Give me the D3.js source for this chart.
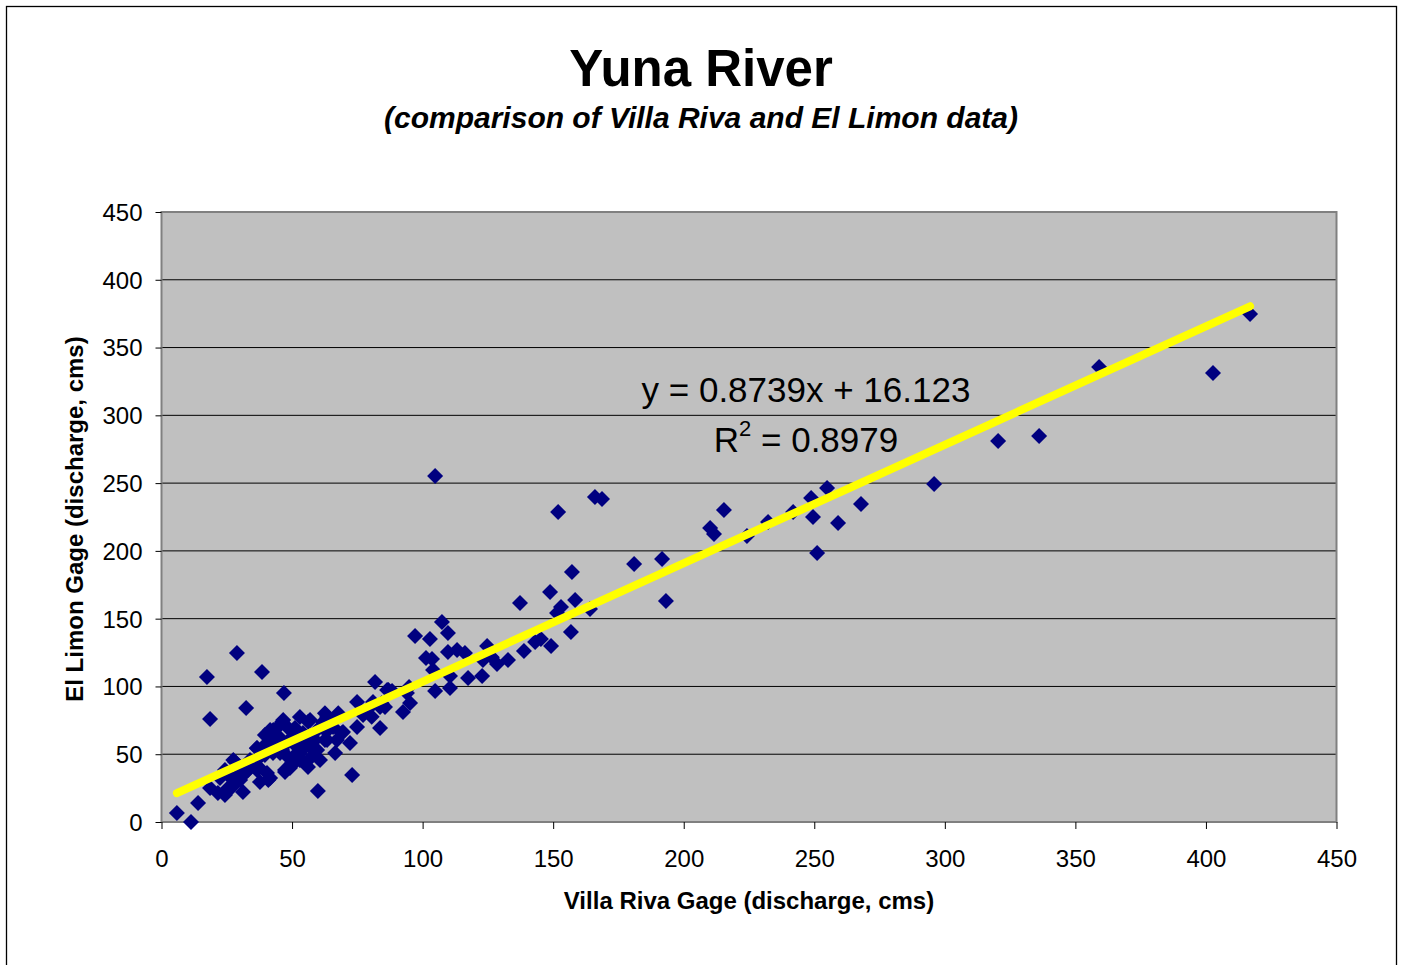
<!DOCTYPE html>
<html><head><meta charset="utf-8">
<script src="https://cdn.jsdelivr.net/npm/d3@7"></script>
<style>body{margin:0;background:#fff;} svg{display:block;font-family:"Liberation Sans",Arial,sans-serif;}</style>
</head><body>
<script>
const villaRiva = [416.9,402.7,359.1,336.1,320.4,295.9,267.9,259.1,251.1,254.9,248.8,249.5,241.9,232.3,224.2,215.4,210.1,211.6,193.2,191.7,181.0,168.7,166.0,151.9,104.8,157.2,158.4,164.1,153.0,151.5,156.8,148.8,137.3,149.2,145.3,143.1,138.8,124.7,123.1,128.5,132.7,126.5,122.8,117.4,110.5,116.2,113.2,109.7,107.4,109.7,97.1,102.8,101.3,103.6,104.0,104.8,110.5,94.8,94.0,95.2,92.5,86.4,88.3,85.6,83.7,81.8,81.0,83.7,74.9,79.9,77.2,67.6,63.4,65.7,61.9,56.9,46.9,46.2,44.6,41.6,48.1,50.0,54.2,59.6,64.5,69.5,74.9,72.2,66.5,56.1,49.2,73.0,59.9,40.4,42.7,46.2,50.4,53.0,56.9,59.6,63.4,67.2,40.4,38.5,28.9,17.4,32.4,18.6,5.9,11.3,14.0,18.6,21.6,25.5,28.2,31.2,27.0,22.4,26.2,30.1,33.1,36.6,37.7,37.7,41.6,42.7,45.4,48.4,47.3,50.0,53.0,51.9,54.2,36.6,39.6,43.5,47.3,51.1,55.0,58.8,60.7,24.3,
  46.6,42.8,36.5,27.5,47.3,40.9,26.9,56.2,62.6,67.7,62.6,69.0,55.0,58.8,62.6,53.7,57.5,49.9,37.1,32.0,77.9,80.5,84.3,86.9,51.1,53.0,45.4,39.6,33.9,30.1,24.3];
const elLimon = [374.8,331.2,335.7,284.8,281.1,249.3,234.6,220.6,198.4,246.4,239.0,225.0,228.7,221.3,211.0,230.2,216.9,212.5,163.0,194.0,190.3,238.3,239.8,228.7,255.2,184.4,163.8,157.1,158.6,154.2,140.2,169.7,161.6,129.8,135.0,132.8,126.1,129.8,119.5,116.6,119.5,121.5,107.7,106.2,107.7,124.7,126.9,125.4,147.5,139.4,137.2,135.0,121.0,120.2,112.1,96.6,98.9,99.6,95.2,87.8,81.1,97.4,96.6,84.8,69.3,103.3,88.5,84.8,88.5,84.8,78.9,78.9,77.5,70.1,73.8,75.2,95.2,73.8,70.1,67.9,70.1,62.7,65.7,67.9,69.3,66.4,70.1,58.3,50.9,40.6,39.8,34.7,22.9,58.3,50.9,53.1,48.0,50.9,55.3,53.1,60.5,60.5,36.1,110.7,124.7,107.0,84.1,76.0,6.6,0,14.0,25.1,21.4,25.1,44.3,22.1,25.8,32.5,33.2,36.1,38.4,38.4,48.0,29.5,32.5,55.3,50.9,48.0,36.9,42.0,45.7,55.3,62.7,54.6,64.2,60.5,56.8,60.5,56.8,60.5,45.7,38.4,
  75.2,67.9,54.4,45.7,38.4,31.0,26.0,74.0,80.2,80.2,67.9,65.4,55.5,53.1,60.5,45.7,48.2,43.3,40.8,35.9,81.4,77.7,87.6,97.4,69.3,77.5,62.0,49.4,45.7,31.0,19.9];
const xTicks = [0,50,100,150,200,250,300,350,400,450];
const yTicks = [0,50,100,150,200,250,300,350,400,450];
const slope = 0.8739, intercept = 16.123, r2 = "0.8979";
const titleText = "Yuna River";
const subtitleText = "(comparison of Villa Riva and El Limon data)";
const xTitle = "Villa Riva Gage (discharge, cms)";
const yTitle = "El Limon Gage (discharge, cms)";

const W = 1403, H = 965;
const L = 161.5, R = 1336.5, T = 212, B = 822;
const svg = d3.select("body").append("svg").attr("width", W).attr("height", H);
svg.append("rect").attr("x",0).attr("y",0).attr("width",W).attr("height",H).attr("fill","#fff");
svg.append("rect").attr("x",6.5).attr("y",6.5).attr("width",1390).attr("height",1000)
  .attr("fill","none").attr("stroke","#000").attr("stroke-width",1.3);

const x = d3.scaleLinear().domain([0,450]).range([L,R]);
const y = d3.scaleLinear().domain([0,450]).range([B,T]);

svg.append("rect").attr("x",L).attr("y",T).attr("width",R-L).attr("height",B-T).attr("fill","#C0C0C0");
svg.append("g").selectAll("line").data(yTicks.filter(d=>d>0 && d<450)).join("line")
  .attr("x1",L).attr("x2",R).attr("y1",d=>y(d)).attr("y2",d=>y(d))
  .attr("stroke","#000").attr("stroke-width",1);
svg.append("rect").attr("x",L).attr("y",T).attr("width",R-L).attr("height",B-T)
  .attr("fill","none").attr("stroke","#808080").attr("stroke-width",2);

const xAxis = svg.append("g").attr("transform",`translate(0,${B})`)
  .call(d3.axisBottom(x).tickValues(xTicks).tickSize(7).tickPadding(21).tickFormat(d3.format("d")));
const yAxis = svg.append("g").attr("transform",`translate(${L},0)`)
  .call(d3.axisLeft(y).tickValues(yTicks).tickSize(6).tickPadding(13).tickFormat(d3.format("d")));
[xAxis,yAxis].forEach(g=>{
  g.select(".domain").remove();
  g.selectAll(".tick line").attr("stroke","#000").attr("stroke-width",1);
  g.selectAll("text").attr("font-size",24).attr("fill","#000").attr("font-family","Liberation Sans, Arial, sans-serif");
});
xAxis.selectAll("text").attr("dy","0.71em");
yAxis.selectAll("text").attr("dy","0.35em");

const diamond = "M0,-8L8,0L0,8L-8,0Z";
svg.append("g").selectAll("path").data(villaRiva.map((v,i)=>[v,elLimon[i]])).join("path")
  .attr("d",diamond).attr("transform",d=>`translate(${x(d[0])},${y(d[1])})`)
  .attr("fill","#000080");

const [xmin,xmax] = d3.extent(villaRiva);
svg.append("line").attr("x1",x(xmin)).attr("y1",y(slope*xmin+intercept))
  .attr("x2",x(xmax)).attr("y2",y(slope*xmax+intercept))
  .attr("stroke","#FFFF00").attr("stroke-width",8).attr("stroke-linecap","round");

svg.append("text").attr("x",806).attr("y",402).attr("text-anchor","middle").attr("font-size",35).attr("fill","#000")
  .text(`y = ${slope}x + ${intercept}`);
const rt = svg.append("text").attr("x",806).attr("y",452).attr("text-anchor","middle").attr("font-size",35).attr("fill","#000");
rt.append("tspan").text("R");
rt.append("tspan").attr("font-size",22).attr("dy",-16).text("2");
rt.append("tspan").attr("dy",16).text(` = ${r2}`);

svg.append("text").attr("x",701).attr("y",86).attr("text-anchor","middle").attr("font-size",51).attr("font-weight","bold").text(titleText);
svg.append("text").attr("x",701).attr("y",128).attr("text-anchor","middle").attr("font-size",30).attr("font-weight","bold").attr("font-style","italic").text(subtitleText);
svg.append("text").attr("x",749).attr("y",909).attr("text-anchor","middle").attr("font-size",24).attr("font-weight","bold").text(xTitle);
svg.append("text").attr("transform","translate(83,519) rotate(-90)").attr("text-anchor","middle").attr("font-size",24).attr("font-weight","bold").text(yTitle);
</script>
</body></html>
